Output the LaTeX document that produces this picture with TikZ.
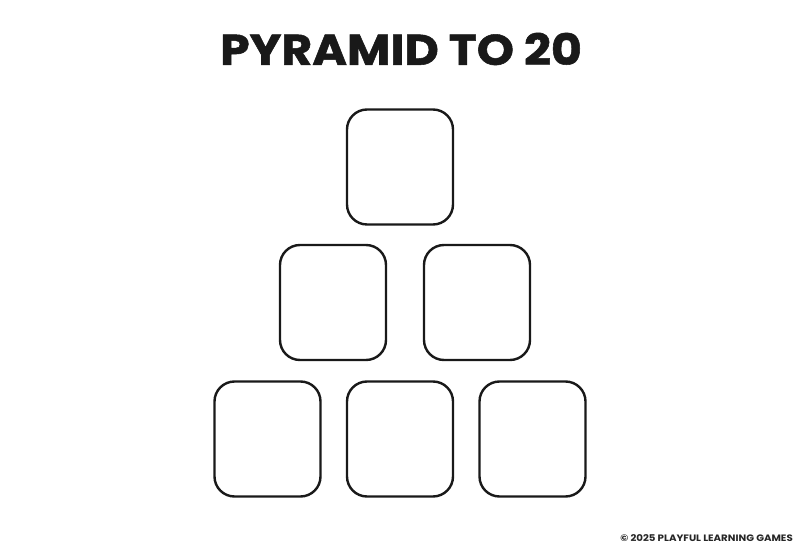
\documentclass[tikz,border=0pt]{standalone}
\usepackage{graphicx}
\usepackage{fontspec}
\setmainfont{Poppins}
\newfontfamily\titlefont[FakeBold=1.2]{Poppins}
\begin{document}
\begin{tikzpicture}[x=1pt,y=1pt,
  cell/.style={draw=black!90, line width=2.4pt, rounded corners=20pt,
    minimum width=106pt, minimum height=115pt, inner sep=0pt},
  titletext/.style={font=\fontsize{43}{46}\titlefont\bfseries, text=black!90, inner sep=0pt},
  foot/.style={font=\fontsize{9.3}{11}\selectfont\bfseries, text=black!85, inner sep=0pt}]
\useasboundingbox[fill=white] (0,0) rectangle (800,554);
\node[titletext] (title) at (401,505) {\scalebox{1.1}[1]{PYRAMID TO 20}};
\node[cell] (t) at (400,387) {};
\node[cell] (m1) at (333,251.5) {};
\node[cell] (m2) at (477,251.5) {};
\node[cell] (b1) at (267.5,115) {};
\node[cell] (b2) at (400,115) {};
\node[cell] (b3) at (532.5,115) {};
\node[foot, anchor=east] (footer) at (793,16) {\scalebox{1.1}[1]{© 2025 PLAYFUL LEARNING GAMES}};
\end{tikzpicture}
\end{document}
